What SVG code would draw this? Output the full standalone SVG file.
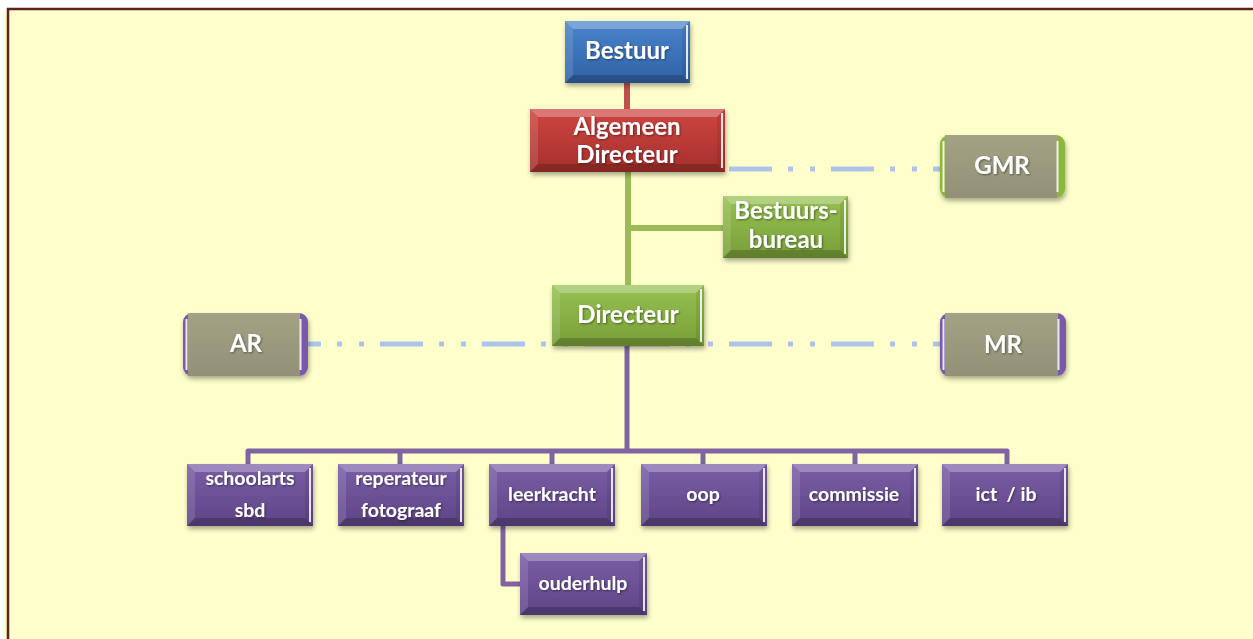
<svg xmlns="http://www.w3.org/2000/svg" xmlns:xlink="http://www.w3.org/1999/xlink" width="1253" height="639" viewBox="0 0 1253 639">
<defs>
<style>
.t{font-family:Lato,"Open Sans","Liberation Sans",sans-serif;font-weight:bold;fill:#fff;text-anchor:middle;font-size:24px;white-space:pre}
.s{font-size:19.5px}
.blue{fill:url(#gBlue)}
.red{fill:url(#gRed)}
.green{fill:url(#gGreen)}
.purple{fill:url(#gPurple)}
.gray{fill:url(#gGray)}
.hl{stroke:#fff;stroke-opacity:0.85;stroke-width:2;fill:none}
.dash{stroke:#adc3ea;stroke-width:5;fill:none;stroke-dasharray:43 16 5 17 5 16}
</style>
<linearGradient id="gBlue" x1="0" y1="0" x2="0" y2="1"><stop offset="0" stop-color="#4a84cc"/><stop offset="1" stop-color="#2f62a6"/></linearGradient>
<linearGradient id="gRed" x1="0" y1="0" x2="0" y2="1"><stop offset="0" stop-color="#cf4642"/><stop offset="1" stop-color="#a52f2c"/></linearGradient>
<linearGradient id="gGreen" x1="0" y1="0" x2="0" y2="1"><stop offset="0" stop-color="#97c152"/><stop offset="1" stop-color="#789f38"/></linearGradient>
<linearGradient id="gPurple" x1="0" y1="0" x2="0" y2="1"><stop offset="0" stop-color="#7a5ea6"/><stop offset="1" stop-color="#5f4487"/></linearGradient>
<linearGradient id="gGray" x1="0" y1="0" x2="0" y2="1"><stop offset="0" stop-color="#a3a284"/><stop offset="1" stop-color="#929177"/></linearGradient>
<filter id="sh" x="-10%" y="-15%" width="125%" height="145%">
<feGaussianBlur in="SourceAlpha" stdDeviation="2.5"/>
<feOffset dx="1" dy="3"/>
<feComponentTransfer><feFuncA type="linear" slope="0.35"/></feComponentTransfer>
<feMerge><feMergeNode/><feMergeNode in="SourceGraphic"/></feMerge>
</filter>
<filter id="ts" x="-10%" y="-30%" width="120%" height="160%">
<feGaussianBlur in="SourceAlpha" stdDeviation="1.2"/>
<feOffset dx="1" dy="1"/>
<feComponentTransfer><feFuncA type="linear" slope="0.45"/></feComponentTransfer>
<feMerge><feMergeNode/><feMergeNode in="SourceGraphic"/></feMerge>
</filter>
<g id="bev">
<path d="M0,0 H126 L118,8 H8 Z" fill="#fff" fill-opacity="0.28"/>
<path d="M0,0 L8,8 V54 L0,62 Z" fill="#fff" fill-opacity="0.12"/>
<path d="M0,62 L8,54 H118 L126,62 Z" fill="#000" fill-opacity="0.2"/>
<path d="M126,0 L118,8 V54 L126,62 Z" fill="#000" fill-opacity="0.08"/>
<path d="M123,4 V58" class="hl"/>
</g>
</defs>

<rect x="0" y="0" width="1253" height="639" fill="#ffffff"/>
<rect x="3" y="10" width="1250" height="629" fill="#ffffcc"/>
<path d="M8,639 V9 H1253" fill="none" stroke="#5e2020" stroke-width="2.5"/>

<g id="connectors">
<path d="M627,169 H940" class="dash"/>
<path d="M627,344 H940" class="dash"/>
<path d="M627,344 H308" class="dash"/>
<path d="M627,83 V109" stroke="#c0504d" stroke-width="6" fill="none"/>
<path d="M628,172 V285 M628,228 H723" stroke="#9bbb59" stroke-width="6" fill="none"/>
<path d="M627,346 V451 M248,464 V451 H1007 V464 M400,451 V464 M552,451 V464 M703,451 V464 M855,451 V464 M503,526 V584 H520" stroke="#8064a2" stroke-width="5" fill="none" stroke-linejoin="round"/>
</g>

<g id="bestuur">
<rect x="565" y="21" width="125" height="62" class="blue" filter="url(#sh)"/>
<use xlink:href="#bev" transform="translate(565,21) scale(0.992,1)"/>
<text x="627" y="59" class="t" filter="url(#ts)">Bestuur</text>
</g>

<g id="algemeen-directeur">
<rect x="530" y="109" width="195" height="63" class="red" filter="url(#sh)"/>
<path d="M530,109 H725 L717,117 H538 Z" fill="#fff" fill-opacity="0.28"/>
<path d="M530,109 L538,117 V164 L530,172 Z" fill="#fff" fill-opacity="0.12"/>
<path d="M530,172 L538,164 H717 L725,172 Z" fill="#000" fill-opacity="0.2"/>
<path d="M725,109 L717,117 V164 L725,172 Z" fill="#000" fill-opacity="0.08"/>
<path d="M722,113 V168" class="hl"/>
<text x="627" y="135" class="t" filter="url(#ts)">Algemeen</text>
<text x="627" y="163" class="t" filter="url(#ts)">Directeur</text>
</g>

<g id="gmr">
<rect x="940" y="135" width="125" height="63" rx="9" fill="#8cb63c" filter="url(#sh)"/>
<rect x="945" y="135" width="112" height="63" class="gray"/>
<path d="M943.5,141 V192" class="hl"/>
<path d="M1057.5,141 V192" class="hl"/>
<text x="1002" y="174" class="t" filter="url(#ts)">GMR</text>
</g>

<g id="bestuursbureau">
<rect x="723" y="196" width="125" height="62" class="green" filter="url(#sh)"/>
<use xlink:href="#bev" transform="translate(723,196) scale(0.992,1)"/>
<text x="786" y="219" class="t" filter="url(#ts)">Bestuurs-</text>
<text x="786" y="248" class="t" filter="url(#ts)">bureau</text>
</g>

<g id="directeur">
<rect x="552" y="285" width="152" height="61" class="green" filter="url(#sh)"/>
<path d="M552,285 H704 L696,293 H560 Z" fill="#fff" fill-opacity="0.28"/>
<path d="M552,285 L560,293 V338 L552,346 Z" fill="#fff" fill-opacity="0.12"/>
<path d="M552,346 L560,338 H696 L704,346 Z" fill="#000" fill-opacity="0.2"/>
<path d="M704,285 L696,293 V338 L704,346 Z" fill="#000" fill-opacity="0.08"/>
<path d="M701,289 V342" class="hl"/>
<text x="628" y="323" class="t" filter="url(#ts)">Directeur</text>
</g>

<g id="ar">
<rect x="183" y="313" width="125" height="63" rx="9" fill="#7a5aa8" filter="url(#sh)"/>
<rect x="188" y="313" width="112" height="63" class="gray"/>
<path d="M186.5,319 V370" class="hl"/>
<path d="M300.5,319 V370" class="hl"/>
<text x="246" y="352" class="t" filter="url(#ts)">AR</text>
</g>

<g id="mr">
<rect x="940" y="313" width="126" height="63" rx="9" fill="#7a5aa8" filter="url(#sh)"/>
<rect x="945" y="313" width="113" height="63" class="gray"/>
<path d="M943.5,319 V370" class="hl"/>
<path d="M1058.5,319 V370" class="hl"/>
<text x="1003" y="353" class="t" filter="url(#ts)">MR</text>
</g>

<g id="schoolarts">
<rect x="187" y="464" width="126" height="62" class="purple" filter="url(#sh)"/>
<use xlink:href="#bev" x="187" y="464"/>
<text x="250" y="485" class="t s" filter="url(#ts)">schoolarts</text>
<text x="250" y="517" class="t s" filter="url(#ts)">sbd</text>
</g>

<g id="reperateur">
<rect x="338" y="464" width="126" height="62" class="purple" filter="url(#sh)"/>
<use xlink:href="#bev" x="338" y="464"/>
<text x="401" y="485" class="t s" filter="url(#ts)">reperateur</text>
<text x="401" y="517" class="t s" filter="url(#ts)">fotograaf</text>
</g>

<g id="leerkracht">
<rect x="489" y="464" width="126" height="62" class="purple" filter="url(#sh)"/>
<use xlink:href="#bev" x="489" y="464"/>
<text x="552" y="501" class="t s" filter="url(#ts)">leerkracht</text>
</g>

<g id="oop">
<rect x="641" y="464" width="126" height="62" class="purple" filter="url(#sh)"/>
<use xlink:href="#bev" x="641" y="464"/>
<text x="703" y="501" class="t s" filter="url(#ts)">oop</text>
</g>

<g id="commissie">
<rect x="792" y="464" width="126" height="62" class="purple" filter="url(#sh)"/>
<use xlink:href="#bev" x="792" y="464"/>
<text x="854" y="501" class="t s" filter="url(#ts)">commissie</text>
</g>

<g id="ict-ib">
<rect x="942" y="464" width="126" height="62" class="purple" filter="url(#sh)"/>
<use xlink:href="#bev" x="942" y="464"/>
<text x="1006" y="501" class="t s" filter="url(#ts)">ict  / ib</text>
</g>

<g id="ouderhulp">
<rect x="520" y="553" width="127" height="62" class="purple" filter="url(#sh)"/>
<use xlink:href="#bev" transform="translate(520,553) scale(1.008,1)"/>
<text x="583" y="590" class="t s" filter="url(#ts)">ouderhulp</text>
</g>
</svg>
